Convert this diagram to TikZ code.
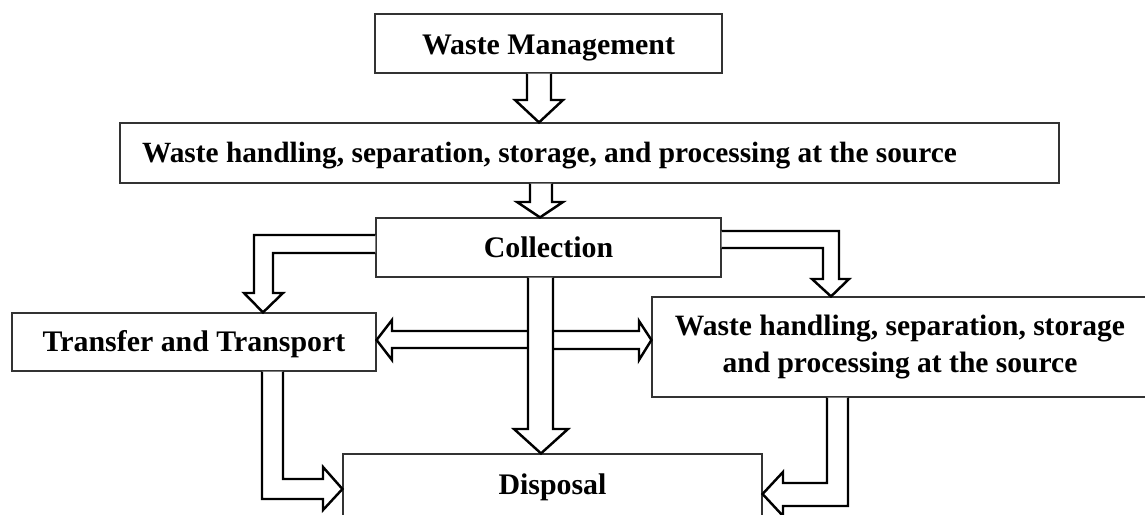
\documentclass[tikz,border=0pt]{standalone}
\usepackage{fontspec}
\setmainfont{Liberation Serif}
\usetikzlibrary{calc}
\begin{document}
\begin{tikzpicture}[x=0.02cm,y=-0.02cm,
    box/.style={draw=black!80,line width=0.7pt,inner sep=0pt,font=\bfseries\fontsize{17}{21}\selectfont},
    oneline/.style={text height=11pt,text depth=0pt},
    blk/.style={draw,line width=1.4pt,fill=white,line join=miter}]
            \useasboundingbox (0,0) rectangle (1145,514);
            % boxes
            \node[box,oneline,text height=13pt,minimum width=6.94cm,minimum height=1.18cm] (wm) at (548.5,43.5) {Waste Management};
            \node[box,oneline,font=\bfseries\fontsize{16.7}{21}\selectfont,text width=17.9cm,inner xsep=0.44cm,align=flush left,minimum height=1.2cm] (src) at (589.5,153) {Waste handling, separation, storage, and processing at the source};
            \node[box,oneline,minimum width=6.9cm,minimum height=1.18cm] (col) at (548.5,247.5) {Collection};
            \node[box,oneline,minimum width=7.28cm,minimum height=1.16cm] (tt) at (194,342) {Transfer and Transport};
            \node[box,font=\bfseries\fontsize{16.8}{21}\selectfont,minimum width=9.92cm,minimum height=2cm,align=flush center] (proc) at (900,347) {Waste handling, separation, storage\\and processing at the source};
            \node[box,oneline,minimum width=8.38cm,minimum height=1.24cm] (disp) at (552.5,485) {Disposal};
            % block arrows
            \draw[blk] (527,0 |- wm.south) -- (527,100) -- (515,100) -- (539,0 |- src.north) -- (563,100) -- (551,100) -- (551,0 |- wm.south);
            \draw[blk] (530,0 |- src.south) -- (530,202) -- (517,202) -- (540,0 |- col.north) -- (563,202) -- (552,202) -- (552,0 |- src.south);
            \draw[blk] (col.west |- 0,235) -- (254,235) -- (254,293) -- (244,293) -- (263,0 |- tt.north) -- (283,293) -- (273,293) -- (273,253) -- (col.west |- 0,253);
            \draw[blk] (col.east |- 0,231) -- (839,231) -- (839,279) -- (849,279) -- (831,0 |- proc.north) -- (812,279) -- (823,279) -- (823,248) -- (col.east |- 0,248);
            \draw[blk] (541,331) -- (392,331) -- (392,320) -- (tt.east |- 0,340) -- (392,360) -- (392,348) -- (541,348);
            \draw[blk] (541,331) -- (639,331) -- (639,321) -- (proc.west |- 0,340) -- (639,360) -- (639,349) -- (541,349);
            \draw[blk] (528,0 |- col.south) -- (528,429) -- (514,429) -- (541,0 |- disp.north) -- (568,429) -- (553,429) -- (553,0 |- col.south);
            \draw[blk] (262,0 |- tt.south) -- (262,499) -- (323,499) -- (323,510) -- (disp.west |- 0,489) -- (323,467) -- (323,479) -- (283,479) -- (283,0 |- tt.south);
            \draw[blk] (848,0 |- proc.south) -- (848,506) -- (783,506) -- (783,516) -- (disp.east |- 0,494) -- (783,472) -- (783,483) -- (827,483) -- (827,0 |- proc.south);
        \end{tikzpicture}
\end{document}
